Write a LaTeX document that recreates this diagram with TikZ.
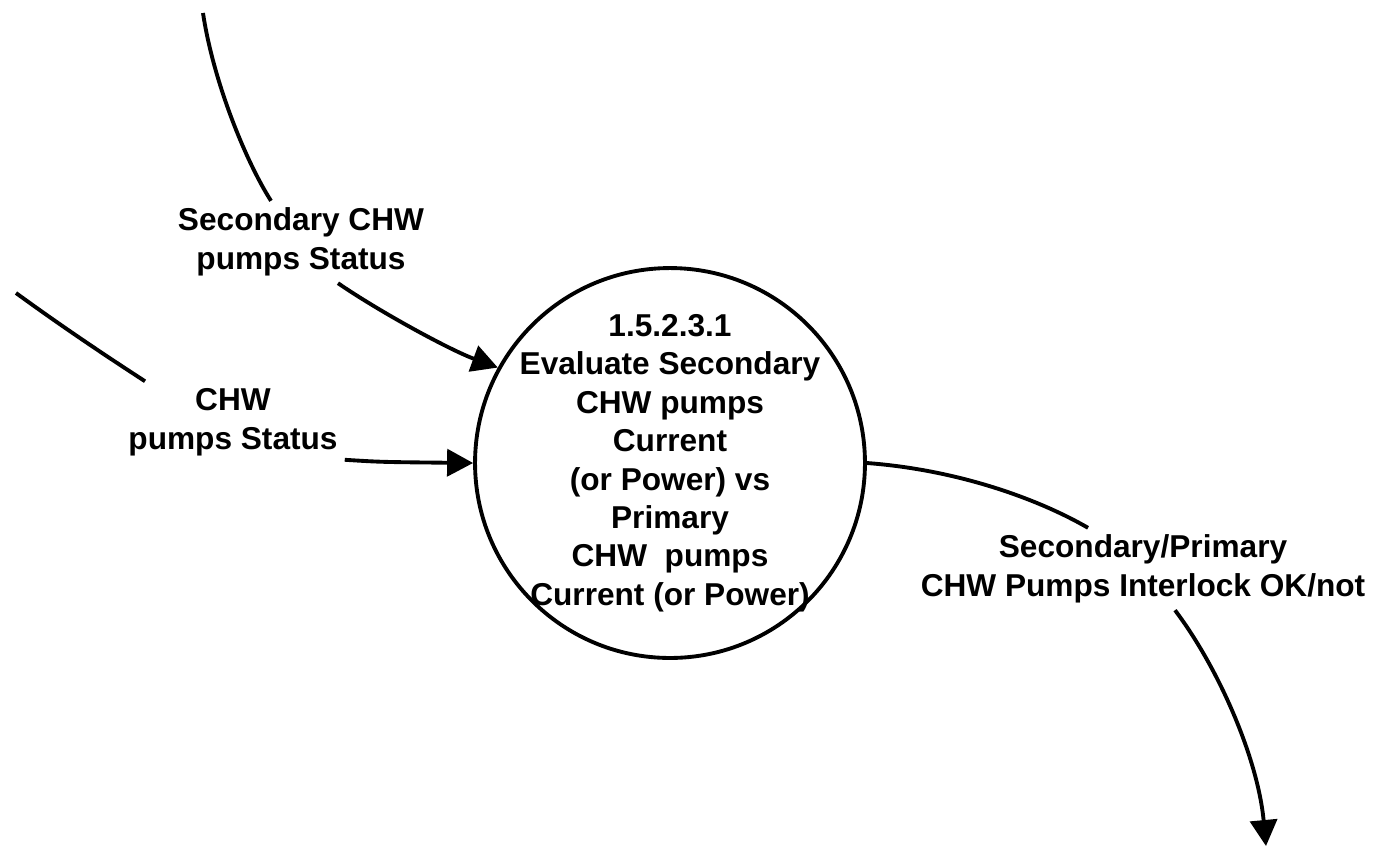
\documentclass[tikz,border=0pt]{standalone}
\usepackage{fontspec}
\setmainfont{Liberation Sans}
\usetikzlibrary{arrows.meta}

\begin{document}
\begin{tikzpicture}[x=0.02cm,y=-0.02cm,>={Triangle[length=0.52cm,width=0.54cm]},
	line width=2.2pt,
	process node/.style={circle,draw,minimum size=7.8cm,inner sep=0pt},
	process text/.style={align=center,font=\bfseries\fontsize{18}{21.9}\selectfont},
	flow label/.style={align=center,inner sep=3pt,font=\bfseries\fontsize{18}{21.9}\selectfont}]
	
	\useasboundingbox (0,0) rectangle (1395,850);
	
	\node[process node, label={[process text]center:{1.5.2.3.1\\Evaluate Secondary\\CHW pumps\\Current\\(or Power) vs\\Primary\\CHW~ pumps\\Current (or Power)}}] (p) at (670,463) {};
	
	\node[flow label] (l1) at (301,242) {Secondary CHW\\pumps Status};
	\node[flow label] (l2) at (233,422) {CHW\\pumps Status};
	\node[flow label] (l3) at (1143,569) {Secondary/Primary\\CHW Pumps Interlock OK/not};
	
	\coordinate (s1) at (203,13);
	\coordinate (s2) at (16,293);
	\coordinate (t3) at (1266,846);
	
	% inputs
	\draw (s1) .. controls (213,80) and (245,160) .. ([xshift=-0.6cm]l1.north);
	\draw[->] ([xshift=0.74cm]l1.south) .. controls (380,312) and (450,350) .. (p.151);
	\draw (s2) .. controls (60,325) and (100,352) .. ([xshift=-1.76cm]l2.north);
	\draw[->] ([yshift=0.06cm]l2.south east) .. controls (380,462) .. (p.west);
	
	% output
	\draw (p.east) .. controls (960,470) and (1040,500) .. ([xshift=-1.1cm]l3.north);
	\draw[->] ([xshift=0.64cm]l3.south) .. controls (1220,670) and (1258,760) .. (t3);
\end{tikzpicture}
\end{document}
